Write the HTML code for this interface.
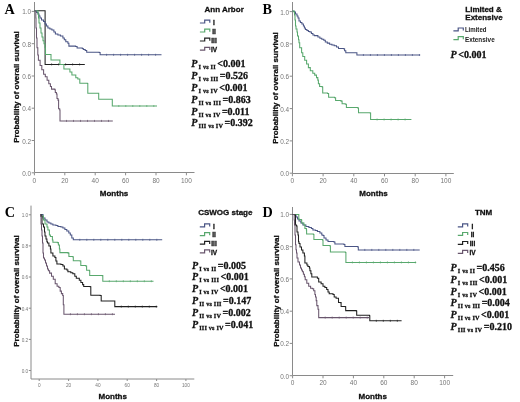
<!DOCTYPE html><html><head><meta charset="utf-8"><style>html,body{margin:0;padding:0;background:#fff;width:520px;height:402px;overflow:hidden;}svg{display:block;will-change:transform;}.b{stroke:#111;stroke-width:0.3px;}.s{stroke:#111;stroke-width:0.3px;}svg{font-family:"Liberation Sans",sans-serif;}</style></head><body>
<svg width="520" height="402" viewBox="0 0 520 402">
<rect width="520" height="402" fill="#fff"/>
<path d="M34.5 2.0 V172.5 H194.5" fill="none" stroke="#8a8a8a" stroke-width="1"/>
<path d="M31.7 172.8 H34.5" stroke="#8a8a8a" stroke-width="1"/>
<text x="31.1" y="175.8" font-size="6.4" text-anchor="end" fill="#767676">0.0</text>
<path d="M31.7 140.5 H34.5" stroke="#8a8a8a" stroke-width="1"/>
<text x="31.1" y="143.5" font-size="6.4" text-anchor="end" fill="#767676">0.2</text>
<path d="M31.7 108.2 H34.5" stroke="#8a8a8a" stroke-width="1"/>
<text x="31.1" y="111.2" font-size="6.4" text-anchor="end" fill="#767676">0.4</text>
<path d="M31.7 76.0 H34.5" stroke="#8a8a8a" stroke-width="1"/>
<text x="31.1" y="79.0" font-size="6.4" text-anchor="end" fill="#767676">0.6</text>
<path d="M31.7 43.7 H34.5" stroke="#8a8a8a" stroke-width="1"/>
<text x="31.1" y="46.7" font-size="6.4" text-anchor="end" fill="#767676">0.8</text>
<path d="M31.7 11.4 H34.5" stroke="#8a8a8a" stroke-width="1"/>
<text x="31.1" y="14.4" font-size="6.4" text-anchor="end" fill="#767676">1.0</text>
<path d="M34.4 172.5 V175.3" stroke="#8a8a8a" stroke-width="1"/>
<text x="34.4" y="182.5" font-size="6.5" text-anchor="middle" fill="#767676">0</text>
<path d="M64.8 172.5 V175.3" stroke="#8a8a8a" stroke-width="1"/>
<text x="64.8" y="182.5" font-size="6.5" text-anchor="middle" fill="#767676">20</text>
<path d="M95.2 172.5 V175.3" stroke="#8a8a8a" stroke-width="1"/>
<text x="95.2" y="182.5" font-size="6.5" text-anchor="middle" fill="#767676">40</text>
<path d="M125.6 172.5 V175.3" stroke="#8a8a8a" stroke-width="1"/>
<text x="125.6" y="182.5" font-size="6.5" text-anchor="middle" fill="#767676">60</text>
<path d="M156.0 172.5 V175.3" stroke="#8a8a8a" stroke-width="1"/>
<text x="156.0" y="182.5" font-size="6.5" text-anchor="middle" fill="#767676">80</text>
<path d="M186.4 172.5 V175.3" stroke="#8a8a8a" stroke-width="1"/>
<text x="186.4" y="182.5" font-size="6.5" text-anchor="middle" fill="#767676">100</text>
<text x="114.0" y="196.0" class="b" font-size="8" font-weight="bold" text-anchor="middle" fill="#111">Months</text>
<text transform="translate(19.0 87.0) rotate(-90)" class="b" font-size="8" font-weight="bold" text-anchor="middle" fill="#111">Probability of overall survival</text>
<text x="4.6" y="13.7" style="font-family:&quot;Liberation Serif&quot;,serif" font-size="14.2" font-weight="bold" fill="#000">A</text>
<path d="M51.6 63.4 V65.4 M58.6 63.4 V65.4 M65.6 63.4 V65.4 M72.6 63.4 V65.4 M79.6 63.4 V65.4 " stroke="#202020" stroke-width="1" fill="none" opacity="0.7"/>
<path d="M34.4 10.8 H45.1 V64.4 H84.8 V64.4" fill="none" stroke="#202020" stroke-width="1.05" stroke-linejoin="miter" stroke-linecap="butt"/>
<path d="M106.6 53.8 V55.8 M113.6 53.8 V55.8 M120.6 53.8 V55.8 M127.6 53.8 V55.8 M134.6 53.8 V55.8 M141.6 53.8 V55.8 M148.6 53.8 V55.8 M155.6 53.8 V55.8 " stroke="#4a5585" stroke-width="1" fill="none" opacity="0.7"/>
<path d="M34.4 10.8 H36.5 V12.5 H38.0 V14.0 H39.0 V16.0 H40.0 V18.0 H41.5 V20.0 H43.5 V21.4 H45.0 V24.0 H46.4 V25.9 H47.9 V27.9 H49.9 V28.9 H51.9 V29.9 H53.9 V31.9 H55.4 V33.9 H57.9 V34.9 H60.4 V35.9 H62.9 V37.9 H64.3 V39.8 H65.8 V41.8 H67.9 V43.2 H68.9 V46.1 H75.6 V46.4 H77.1 V48.0 H82.3 V48.5 H83.3 V49.5 H85.2 V50.4 H86.7 V52.3 H99.2 V52.5 H100.1 V54.8 H161.5 V54.8" fill="none" stroke="#4a5585" stroke-width="1.05" stroke-linejoin="miter" stroke-linecap="butt"/>
<path d="M118.8 105.0 V107.0 M125.8 105.0 V107.0 M132.8 105.0 V107.0 M139.8 105.0 V107.0 M146.8 105.0 V107.0 M153.8 105.0 V107.0 " stroke="#58a86d" stroke-width="1" fill="none" opacity="0.7"/>
<path d="M34.4 10.8 H37.0 V11.0 H38.0 V14.0 H38.5 V18.0 H39.0 V23.0 H40.0 V27.9 H41.0 V32.9 H42.0 V36.9 H43.0 V40.8 H44.0 V43.8 H45.0 V47.8 H45.5 V54.5 H51.0 V59.9 H59.9 V64.4 H63.9 V68.9 H69.9 V71.9 H71.9 V74.9 H75.8 V77.8 H77.8 V79.0 H79.8 V83.2 H87.4 V83.4 H87.8 V93.3 H98.4 V93.3 H98.7 V99.2 H111.9 V99.2 H112.3 V106.0 H157.0 V106.0" fill="none" stroke="#58a86d" stroke-width="1.05" stroke-linejoin="miter" stroke-linecap="butt"/>
<path d="M66.5 119.9 V121.9 M73.5 119.9 V121.9 M80.5 119.9 V121.9 M87.5 119.9 V121.9 M94.5 119.9 V121.9 M101.5 119.9 V121.9 M108.5 119.9 V121.9 " stroke="#69566d" stroke-width="1" fill="none" opacity="0.7"/>
<path d="M34.4 10.8 H35.5 V11.0 H35.8 V18.0 H36.0 V27.9 H36.5 V37.9 H37.0 V47.8 H37.8 V55.0 H38.4 V60.2 H40.1 V65.5 H41.8 V69.8 H43.6 V74.2 H45.3 V76.8 H47.1 V80.3 H48.8 V83.7 H50.4 V86.4 H51.5 V89.1 H54.8 V89.7 H55.3 V92.4 H56.4 V94.0 H57.0 V98.4 H58.0 V100.1 H58.6 V108.8 H59.7 V109.9 H60.0 V120.9 H112.8 V120.9" fill="none" stroke="#69566d" stroke-width="1.05" stroke-linejoin="miter" stroke-linecap="butt"/>
<text x="204.5" y="12.3" class="b" font-size="8" font-weight="bold" fill="#111">Ann Arbor</text>
<path d="M199.9 23.0 H204.7 V20.1 H209.8 V22.7" fill="none" stroke="#4a5585" stroke-width="1.2"/>
<text class="b" x="214.0" y="24.7" font-size="6.5" font-weight="bold" text-anchor="middle" fill="#111">I</text>
<path d="M199.9 32.0 H204.7 V29.1 H209.8 V31.7" fill="none" stroke="#58a86d" stroke-width="1.2"/>
<text class="b" x="214.0" y="33.7" font-size="6.5" font-weight="bold" text-anchor="middle" fill="#111">II</text>
<path d="M199.9 41.0 H204.7 V38.1 H209.8 V40.7" fill="none" stroke="#202020" stroke-width="1.2"/>
<text class="b" x="214.0" y="42.7" font-size="6.5" font-weight="bold" text-anchor="middle" fill="#111">III</text>
<path d="M199.9 50.2 H204.7 V47.3 H209.8 V49.9" fill="none" stroke="#69566d" stroke-width="1.2"/>
<text class="b" x="214.0" y="51.9" font-size="6.5" font-weight="bold" text-anchor="middle" fill="#111">IV</text>
<text x="191.3" y="67.4" class="s" style="font-family:&quot;Liberation Serif&quot;,serif" font-weight="bold" fill="#111"><tspan font-style="italic" font-size="10">P</tspan><tspan font-size="6.2" dx="1.2" dy="2" letter-spacing="0.2">I vs II</tspan><tspan font-size="10" dx="1.4" dy="-2">&lt;0.001</tspan></text>
<text x="191.3" y="79.2" class="s" style="font-family:&quot;Liberation Serif&quot;,serif" font-weight="bold" fill="#111"><tspan font-style="italic" font-size="10">P</tspan><tspan font-size="6.2" dx="1.2" dy="2" letter-spacing="0.2">I vs III</tspan><tspan font-size="10" dx="1.4" dy="-2">=0.526</tspan></text>
<text x="191.3" y="91.0" class="s" style="font-family:&quot;Liberation Serif&quot;,serif" font-weight="bold" fill="#111"><tspan font-style="italic" font-size="10">P</tspan><tspan font-size="6.2" dx="1.2" dy="2" letter-spacing="0.2">I vs IV</tspan><tspan font-size="10" dx="1.4" dy="-2">&lt;0.001</tspan></text>
<text x="191.3" y="102.8" class="s" style="font-family:&quot;Liberation Serif&quot;,serif" font-weight="bold" fill="#111"><tspan font-style="italic" font-size="10">P</tspan><tspan font-size="6.2" dx="1.2" dy="2" letter-spacing="0.2">II vs III</tspan><tspan font-size="10" dx="1.4" dy="-2">=0.863</tspan></text>
<text x="191.3" y="114.6" class="s" style="font-family:&quot;Liberation Serif&quot;,serif" font-weight="bold" fill="#111"><tspan font-style="italic" font-size="10">P</tspan><tspan font-size="6.2" dx="1.2" dy="2" letter-spacing="0.2">II vs IV</tspan><tspan font-size="10" dx="1.4" dy="-2">=0.011</tspan></text>
<text x="191.3" y="126.4" class="s" style="font-family:&quot;Liberation Serif&quot;,serif" font-weight="bold" fill="#111"><tspan font-style="italic" font-size="10">P</tspan><tspan font-size="6.2" dx="1.2" dy="2" letter-spacing="0.2">III vs IV</tspan><tspan font-size="10" dx="1.4" dy="-2">=0.392</tspan></text>
<path d="M292.5 2.0 V173.5 H453.8" fill="none" stroke="#8a8a8a" stroke-width="1"/>
<path d="M289.7 173.2 H292.5" stroke="#8a8a8a" stroke-width="1"/>
<text x="289.1" y="176.2" font-size="6.4" text-anchor="end" fill="#767676">0.0</text>
<path d="M289.7 140.9 H292.5" stroke="#8a8a8a" stroke-width="1"/>
<text x="289.1" y="143.9" font-size="6.4" text-anchor="end" fill="#767676">0.2</text>
<path d="M289.7 108.6 H292.5" stroke="#8a8a8a" stroke-width="1"/>
<text x="289.1" y="111.6" font-size="6.4" text-anchor="end" fill="#767676">0.4</text>
<path d="M289.7 76.2 H292.5" stroke="#8a8a8a" stroke-width="1"/>
<text x="289.1" y="79.2" font-size="6.4" text-anchor="end" fill="#767676">0.6</text>
<path d="M289.7 43.9 H292.5" stroke="#8a8a8a" stroke-width="1"/>
<text x="289.1" y="46.9" font-size="6.4" text-anchor="end" fill="#767676">0.8</text>
<path d="M289.7 11.6 H292.5" stroke="#8a8a8a" stroke-width="1"/>
<text x="289.1" y="14.6" font-size="6.4" text-anchor="end" fill="#767676">1.0</text>
<path d="M292.4 173.5 V176.3" stroke="#8a8a8a" stroke-width="1"/>
<text x="292.4" y="182.8" font-size="6.5" text-anchor="middle" fill="#767676">0</text>
<path d="M323.1 173.5 V176.3" stroke="#8a8a8a" stroke-width="1"/>
<text x="323.1" y="182.8" font-size="6.5" text-anchor="middle" fill="#767676">20</text>
<path d="M353.8 173.5 V176.3" stroke="#8a8a8a" stroke-width="1"/>
<text x="353.8" y="182.8" font-size="6.5" text-anchor="middle" fill="#767676">40</text>
<path d="M384.5 173.5 V176.3" stroke="#8a8a8a" stroke-width="1"/>
<text x="384.5" y="182.8" font-size="6.5" text-anchor="middle" fill="#767676">60</text>
<path d="M415.2 173.5 V176.3" stroke="#8a8a8a" stroke-width="1"/>
<text x="415.2" y="182.8" font-size="6.5" text-anchor="middle" fill="#767676">80</text>
<path d="M445.9 173.5 V176.3" stroke="#8a8a8a" stroke-width="1"/>
<text x="445.9" y="182.8" font-size="6.5" text-anchor="middle" fill="#767676">100</text>
<text x="373.5" y="196.0" class="b" font-size="8" font-weight="bold" text-anchor="middle" fill="#111">Months</text>
<text transform="translate(277.7 88.0) rotate(-90)" class="b" font-size="8" font-weight="bold" text-anchor="middle" fill="#111">Probability of overall survival</text>
<text x="262.4" y="13.7" style="font-family:&quot;Liberation Serif&quot;,serif" font-size="14.2" font-weight="bold" fill="#000">B</text>
<path d="M363.4 54.0 V56.0 M370.4 54.0 V56.0 M377.4 54.0 V56.0 M384.4 54.0 V56.0 M391.4 54.0 V56.0 M398.4 54.0 V56.0 M405.4 54.0 V56.0 M412.4 54.0 V56.0 M419.4 54.0 V56.0 " stroke="#4a5585" stroke-width="1" fill="none" opacity="0.7"/>
<path d="M292.5 11.1 H293.0 V11.2 H294.5 V12.0 H295.5 V14.0 H297.0 V16.0 H298.0 V18.0 H299.0 V20.9 H300.4 V22.4 H301.9 V23.9 H303.4 V25.9 H304.4 V27.9 H305.4 V29.4 H306.9 V30.4 H308.4 V31.4 H309.9 V31.9 H311.4 V33.4 H312.9 V34.9 H314.4 V35.6 H317.9 V36.9 H319.9 V38.3 H321.8 V39.3 H323.8 V40.3 H325.3 V41.9 H327.3 V43.1 H329.6 V44.2 H331.9 V45.0 H334.2 V45.8 H336.5 V46.9 H338.5 V48.5 H343.5 V48.8 H344.6 V50.8 H345.8 V52.7 H355.8 V52.8 H356.9 V55.0 H420.2 V55.0" fill="none" stroke="#4a5585" stroke-width="1.05" stroke-linejoin="miter" stroke-linecap="butt"/>
<path d="M377.1 118.5 V120.5 M384.1 118.5 V120.5 M391.1 118.5 V120.5 M398.1 118.5 V120.5 M405.1 118.5 V120.5 " stroke="#58a86d" stroke-width="1" fill="none" opacity="0.7"/>
<path d="M292.5 11.1 H294.0 V12.0 H294.5 V15.0 H295.0 V20.0 H295.5 V25.9 H296.0 V28.9 H297.0 V31.9 H297.5 V35.9 H298.5 V39.8 H299.0 V42.8 H299.7 V47.7 H301.6 V52.7 H302.8 V56.4 H304.7 V60.2 H306.6 V63.9 H308.4 V67.6 H310.3 V70.7 H312.8 V73.2 H314.7 V75.1 H316.5 V77.6 H317.8 V80.1 H318.4 V83.8 H319.6 V86.4 H322.2 V86.9 H322.7 V93.0 H327.5 V93.5 H328.6 V97.3 H334.5 V97.8 H335.6 V100.5 H341.0 V101.1 H342.1 V103.8 H345.3 V104.3 H346.4 V107.5 H357.7 V107.9 H358.5 V112.8 H370.1 V113.0 H370.6 V119.5 H411.4 V119.5" fill="none" stroke="#58a86d" stroke-width="1.05" stroke-linejoin="miter" stroke-linecap="butt"/>
<text x="465.3" y="12.4" class="b" font-size="8" font-weight="bold" fill="#111">Limited &amp;</text>
<text x="465.3" y="20.2" class="b" font-size="8" font-weight="bold" fill="#111">Extensive</text>
<path d="M453.4 30.9 H458.2 V28.0 H463.3 V30.6" fill="none" stroke="#4a5585" stroke-width="1.2"/>
<path d="M453.4 39.6 H458.2 V36.7 H463.3 V39.3" fill="none" stroke="#58a86d" stroke-width="1.2"/>
<text x="464.9" y="32.3" font-size="6.5" font-weight="bold" fill="#222" textLength="21.6" lengthAdjust="spacingAndGlyphs">Limited</text>
<text x="464.9" y="41.6" font-size="6.5" font-weight="bold" fill="#222" textLength="29.8" lengthAdjust="spacingAndGlyphs">Extensive</text>
<text x="450.6" y="57.8" class="s" style="font-family:&quot;Liberation Serif&quot;,serif" font-weight="bold" fill="#111"><tspan font-style="italic" font-size="10">P</tspan><tspan font-size="10" dx="1.5">&lt;0.001</tspan></text>
<path d="M31.0 205.6 V379.0 H194.3" fill="none" stroke="#8a8a8a" stroke-width="1"/>
<path d="M28.8 370.5 H31.0" stroke="#8a8a8a" stroke-width="1"/>
<text x="28.2" y="372.9" font-size="4.7" text-anchor="end" fill="#767676">0.0</text>
<path d="M28.8 339.4 H31.0" stroke="#8a8a8a" stroke-width="1"/>
<text x="28.2" y="341.7" font-size="4.7" text-anchor="end" fill="#767676">0.2</text>
<path d="M28.8 308.2 H31.0" stroke="#8a8a8a" stroke-width="1"/>
<text x="28.2" y="310.6" font-size="4.7" text-anchor="end" fill="#767676">0.4</text>
<path d="M28.8 277.0 H31.0" stroke="#8a8a8a" stroke-width="1"/>
<text x="28.2" y="279.4" font-size="4.7" text-anchor="end" fill="#767676">0.6</text>
<path d="M28.8 245.9 H31.0" stroke="#8a8a8a" stroke-width="1"/>
<text x="28.2" y="248.3" font-size="4.7" text-anchor="end" fill="#767676">0.8</text>
<path d="M28.8 214.8 H31.0" stroke="#8a8a8a" stroke-width="1"/>
<text x="28.2" y="217.1" font-size="4.7" text-anchor="end" fill="#767676">1.0</text>
<path d="M39.2 379.0 V381.0" stroke="#8a8a8a" stroke-width="1"/>
<text x="39.2" y="386.8" font-size="4.7" text-anchor="middle" fill="#767676">0</text>
<path d="M68.6 379.0 V381.0" stroke="#8a8a8a" stroke-width="1"/>
<text x="68.6" y="386.8" font-size="4.7" text-anchor="middle" fill="#767676">20</text>
<path d="M97.9 379.0 V381.0" stroke="#8a8a8a" stroke-width="1"/>
<text x="97.9" y="386.8" font-size="4.7" text-anchor="middle" fill="#767676">40</text>
<path d="M127.2 379.0 V381.0" stroke="#8a8a8a" stroke-width="1"/>
<text x="127.2" y="386.8" font-size="4.7" text-anchor="middle" fill="#767676">60</text>
<path d="M156.6 379.0 V381.0" stroke="#8a8a8a" stroke-width="1"/>
<text x="156.6" y="386.8" font-size="4.7" text-anchor="middle" fill="#767676">80</text>
<path d="M185.9 379.0 V381.0" stroke="#8a8a8a" stroke-width="1"/>
<text x="185.9" y="386.8" font-size="4.7" text-anchor="middle" fill="#767676">100</text>
<text x="112.7" y="399.0" class="b" font-size="8" font-weight="bold" text-anchor="middle" fill="#111">Months</text>
<text transform="translate(18.7 291.0) rotate(-90)" class="b" font-size="8" font-weight="bold" text-anchor="middle" fill="#111">Probability of overall survival</text>
<text x="4.7" y="216.9" style="font-family:&quot;Liberation Serif&quot;,serif" font-size="14.2" font-weight="bold" fill="#000">C</text>
<path d="M79.8 238.8 V240.8 M86.8 238.8 V240.8 M93.8 238.8 V240.8 M100.8 238.8 V240.8 M107.8 238.8 V240.8 M114.8 238.8 V240.8 M121.8 238.8 V240.8 M128.8 238.8 V240.8 M135.8 238.8 V240.8 M142.8 238.8 V240.8 M149.8 238.8 V240.8 M156.8 238.8 V240.8 " stroke="#4a5585" stroke-width="1" fill="none" opacity="0.7"/>
<path d="M40.1 214.4 H40.5 V214.5 H43.0 V218.0 H45.0 V220.0 H47.0 V222.0 H48.9 V222.9 H50.9 V223.9 H52.9 V224.9 H55.9 V225.4 H57.9 V226.4 H60.9 V226.9 H62.9 V227.9 H64.9 V229.4 H66.8 V230.9 H68.8 V232.9 H70.3 V234.9 H71.8 V237.9 H73.3 V239.8 H162.2 V239.8" fill="none" stroke="#4a5585" stroke-width="1.05" stroke-linejoin="miter" stroke-linecap="butt"/>
<path d="M109.3 280.2 V282.2 M116.3 280.2 V282.2 M123.3 280.2 V282.2 M130.3 280.2 V282.2 M137.3 280.2 V282.2 M144.3 280.2 V282.2 M151.3 280.2 V282.2 " stroke="#58a86d" stroke-width="1" fill="none" opacity="0.7"/>
<path d="M40.1 214.4 H41.0 V216.0 H43.5 V220.0 H45.0 V223.9 H47.0 V226.9 H47.9 V229.9 H49.4 V234.9 H50.4 V236.4 H52.4 V239.9 H52.9 V242.2 H57.4 V242.6 H58.4 V245.0 H59.4 V249.0 H59.9 V252.6 H68.1 V253.1 H68.9 V256.5 H72.5 V256.8 H73.3 V260.7 H80.0 V260.9 H80.8 V265.5 H85.8 V265.9 H86.6 V270.2 H89.4 V270.8 H89.7 V275.4 H102.3 V275.6 H102.8 V281.2 H153.5 V281.2" fill="none" stroke="#58a86d" stroke-width="1.05" stroke-linejoin="miter" stroke-linecap="butt"/>
<path d="M121.3 305.6 V307.6 M128.3 305.6 V307.6 M135.3 305.6 V307.6 M142.3 305.6 V307.6 M149.3 305.6 V307.6 M156.3 305.6 V307.6 " stroke="#202020" stroke-width="1" fill="none" opacity="0.7"/>
<path d="M40.1 214.4 H41.0 V216.0 H42.0 V223.9 H43.5 V226.9 H44.5 V231.9 H45.0 V235.9 H46.0 V238.9 H46.9 V241.8 H47.5 V243.0 H48.9 V246.0 H50.4 V249.0 H50.9 V252.9 H52.9 V255.9 H54.9 V257.4 H55.9 V260.9 H56.9 V263.9 H60.9 V264.4 H62.9 V265.9 H64.4 V268.9 H66.9 V269.9 H67.9 V271.8 H70.8 V272.8 H72.8 V273.8 H74.8 V276.3 H76.3 V278.3 H79.3 V280.2 H80.9 V282.4 H82.6 V284.6 H83.7 V286.4 H90.2 V286.8 H90.8 V295.2 H100.1 V295.5 H101.2 V300.9 H113.7 V301.0 H114.8 V306.6 H157.3 V306.6" fill="none" stroke="#202020" stroke-width="1.05" stroke-linejoin="miter" stroke-linecap="butt"/>
<path d="M70.4 313.2 V315.2 M77.4 313.2 V315.2 M84.4 313.2 V315.2 M91.4 313.2 V315.2 M98.4 313.2 V315.2 M105.4 313.2 V315.2 M112.4 313.2 V315.2 " stroke="#69566d" stroke-width="1" fill="none" opacity="0.7"/>
<path d="M40.1 214.4 H40.5 V216.0 H41.0 V223.9 H41.5 V229.9 H42.0 V235.9 H42.5 V243.0 H43.0 V252.9 H43.5 V257.9 H44.5 V259.9 H45.5 V262.9 H46.5 V265.9 H47.5 V268.9 H48.4 V270.8 H49.6 V273.1 H51.5 V276.2 H53.3 V279.3 H55.2 V283.7 H57.1 V286.2 H58.9 V287.4 H60.2 V291.1 H61.4 V293.6 H62.7 V295.5 H63.3 V304.8 H63.9 V314.2 H115.0 V314.2" fill="none" stroke="#69566d" stroke-width="1.05" stroke-linejoin="miter" stroke-linecap="butt"/>
<text x="198.2" y="215.4" class="b" font-size="8" font-weight="bold" fill="#111">CSWOG stage</text>
<path d="M199.8 226.8 H204.6 V223.9 H209.7 V226.5" fill="none" stroke="#4a5585" stroke-width="1.2"/>
<text class="b" x="214.0" y="228.5" font-size="6.5" font-weight="bold" text-anchor="middle" fill="#111">I</text>
<path d="M199.8 235.6 H204.6 V232.7 H209.7 V235.3" fill="none" stroke="#58a86d" stroke-width="1.2"/>
<text class="b" x="214.0" y="237.3" font-size="6.5" font-weight="bold" text-anchor="middle" fill="#111">II</text>
<path d="M199.8 244.2 H204.6 V241.3 H209.7 V243.9" fill="none" stroke="#202020" stroke-width="1.2"/>
<text class="b" x="214.0" y="245.9" font-size="6.5" font-weight="bold" text-anchor="middle" fill="#111">III</text>
<path d="M199.8 252.8 H204.6 V249.9 H209.7 V252.5" fill="none" stroke="#69566d" stroke-width="1.2"/>
<text class="b" x="214.0" y="254.5" font-size="6.5" font-weight="bold" text-anchor="middle" fill="#111">IV</text>
<text x="191.9" y="268.6" class="s" style="font-family:&quot;Liberation Serif&quot;,serif" font-weight="bold" fill="#111"><tspan font-style="italic" font-size="10">P</tspan><tspan font-size="6.2" dx="1.2" dy="2" letter-spacing="0.2">I vs II</tspan><tspan font-size="10" dx="1.4" dy="-2">=0.005</tspan></text>
<text x="191.9" y="280.4" class="s" style="font-family:&quot;Liberation Serif&quot;,serif" font-weight="bold" fill="#111"><tspan font-style="italic" font-size="10">P</tspan><tspan font-size="6.2" dx="1.2" dy="2" letter-spacing="0.2">I vs III</tspan><tspan font-size="10" dx="1.4" dy="-2">&lt;0.001</tspan></text>
<text x="191.9" y="292.2" class="s" style="font-family:&quot;Liberation Serif&quot;,serif" font-weight="bold" fill="#111"><tspan font-style="italic" font-size="10">P</tspan><tspan font-size="6.2" dx="1.2" dy="2" letter-spacing="0.2">I vs IV</tspan><tspan font-size="10" dx="1.4" dy="-2">&lt;0.001</tspan></text>
<text x="191.9" y="304.0" class="s" style="font-family:&quot;Liberation Serif&quot;,serif" font-weight="bold" fill="#111"><tspan font-style="italic" font-size="10">P</tspan><tspan font-size="6.2" dx="1.2" dy="2" letter-spacing="0.2">II vs III</tspan><tspan font-size="10" dx="1.4" dy="-2">=0.147</tspan></text>
<text x="191.9" y="315.8" class="s" style="font-family:&quot;Liberation Serif&quot;,serif" font-weight="bold" fill="#111"><tspan font-style="italic" font-size="10">P</tspan><tspan font-size="6.2" dx="1.2" dy="2" letter-spacing="0.2">II vs IV</tspan><tspan font-size="10" dx="1.4" dy="-2">=0.002</tspan></text>
<text x="191.9" y="327.6" class="s" style="font-family:&quot;Liberation Serif&quot;,serif" font-weight="bold" fill="#111"><tspan font-style="italic" font-size="10">P</tspan><tspan font-size="6.2" dx="1.2" dy="2" letter-spacing="0.2">III vs IV</tspan><tspan font-size="10" dx="1.4" dy="-2">=0.041</tspan></text>
<path d="M292.5 207.0 V375.5 H453.2" fill="none" stroke="#8a8a8a" stroke-width="1"/>
<path d="M289.7 375.7 H292.5" stroke="#8a8a8a" stroke-width="1"/>
<text x="289.1" y="378.7" font-size="6.4" text-anchor="end" fill="#767676">0.0</text>
<path d="M289.7 343.4 H292.5" stroke="#8a8a8a" stroke-width="1"/>
<text x="289.1" y="346.4" font-size="6.4" text-anchor="end" fill="#767676">0.2</text>
<path d="M289.7 311.2 H292.5" stroke="#8a8a8a" stroke-width="1"/>
<text x="289.1" y="314.2" font-size="6.4" text-anchor="end" fill="#767676">0.4</text>
<path d="M289.7 278.9 H292.5" stroke="#8a8a8a" stroke-width="1"/>
<text x="289.1" y="281.9" font-size="6.4" text-anchor="end" fill="#767676">0.6</text>
<path d="M289.7 246.7 H292.5" stroke="#8a8a8a" stroke-width="1"/>
<text x="289.1" y="249.7" font-size="6.4" text-anchor="end" fill="#767676">0.8</text>
<path d="M289.7 214.4 H292.5" stroke="#8a8a8a" stroke-width="1"/>
<text x="289.1" y="217.4" font-size="6.4" text-anchor="end" fill="#767676">1.0</text>
<path d="M292.6 375.5 V378.3" stroke="#8a8a8a" stroke-width="1"/>
<text x="292.6" y="385.3" font-size="6.5" text-anchor="middle" fill="#767676">0</text>
<path d="M323.0 375.5 V378.3" stroke="#8a8a8a" stroke-width="1"/>
<text x="323.0" y="385.3" font-size="6.5" text-anchor="middle" fill="#767676">20</text>
<path d="M353.4 375.5 V378.3" stroke="#8a8a8a" stroke-width="1"/>
<text x="353.4" y="385.3" font-size="6.5" text-anchor="middle" fill="#767676">40</text>
<path d="M383.8 375.5 V378.3" stroke="#8a8a8a" stroke-width="1"/>
<text x="383.8" y="385.3" font-size="6.5" text-anchor="middle" fill="#767676">60</text>
<path d="M414.2 375.5 V378.3" stroke="#8a8a8a" stroke-width="1"/>
<text x="414.2" y="385.3" font-size="6.5" text-anchor="middle" fill="#767676">80</text>
<path d="M444.6 375.5 V378.3" stroke="#8a8a8a" stroke-width="1"/>
<text x="444.6" y="385.3" font-size="6.5" text-anchor="middle" fill="#767676">100</text>
<text x="372.7" y="399.0" class="b" font-size="8" font-weight="bold" text-anchor="middle" fill="#111">Months</text>
<text transform="translate(278.7 291.0) rotate(-90)" class="b" font-size="8" font-weight="bold" text-anchor="middle" fill="#111">Probability of overall survival</text>
<text x="262.4" y="216.9" style="font-family:&quot;Liberation Serif&quot;,serif" font-size="14.2" font-weight="bold" fill="#000">D</text>
<path d="M364.8 248.9 V250.9 M371.8 248.9 V250.9 M378.8 248.9 V250.9 M385.8 248.9 V250.9 M392.8 248.9 V250.9 M399.8 248.9 V250.9 M406.8 248.9 V250.9 M413.8 248.9 V250.9 " stroke="#4a5585" stroke-width="1" fill="none" opacity="0.7"/>
<path d="M292.5 214.4 H295.0 V214.5 H296.0 V217.0 H297.5 V219.0 H299.0 V221.0 H300.9 V222.9 H302.9 V224.9 H305.9 V226.4 H308.9 V227.4 H311.4 V228.4 H312.9 V229.9 H315.4 V230.4 H317.4 V231.4 H319.9 V232.9 H321.8 V234.9 H323.0 V235.5 H324.0 V238.0 H326.0 V239.9 H328.0 V241.4 H333.9 V241.9 H334.9 V243.9 H343.9 V244.4 H344.9 V246.4 H357.8 V246.9 H358.3 V249.9 H419.7 V249.9" fill="none" stroke="#4a5585" stroke-width="1.05" stroke-linejoin="miter" stroke-linecap="butt"/>
<path d="M352.4 261.4 V263.4 M359.4 261.4 V263.4 M366.4 261.4 V263.4 M373.4 261.4 V263.4 M380.4 261.4 V263.4 M387.4 261.4 V263.4 M394.4 261.4 V263.4 M401.4 261.4 V263.4 M408.4 261.4 V263.4 M415.4 261.4 V263.4 " stroke="#58a86d" stroke-width="1" fill="none" opacity="0.7"/>
<path d="M292.5 214.4 H298.5 V214.5 H298.8 V219.5 H301.4 V220.0 H301.7 V222.9 H303.9 V224.9 H304.9 V228.4 H306.4 V229.9 H306.6 V233.9 H313.4 V234.4 H313.9 V239.4 H322.5 V239.9 H323.0 V245.4 H330.0 V245.9 H330.4 V251.9 H345.4 V252.4 H345.9 V262.4 H416.2 V262.4" fill="none" stroke="#58a86d" stroke-width="1.05" stroke-linejoin="miter" stroke-linecap="butt"/>
<path d="M376.3 319.8 V321.8 M383.3 319.8 V321.8 M390.3 319.8 V321.8 M397.3 319.8 V321.8 " stroke="#202020" stroke-width="1" fill="none" opacity="0.7"/>
<path d="M292.5 214.4 H294.5 V215.0 H295.5 V224.9 H296.5 V225.9 H297.0 V231.9 H298.0 V234.9 H298.5 V241.8 H299.0 V243.5 H300.0 V247.0 H301.5 V250.0 H302.9 V252.9 H304.4 V255.9 H304.9 V262.9 H306.9 V264.9 H307.9 V266.4 H309.4 V267.9 H309.9 V270.8 H310.9 V273.8 H311.8 V277.0 H317.4 V278.2 H318.7 V282.0 H321.1 V283.8 H323.0 V286.3 H324.9 V287.5 H326.7 V289.4 H328.0 V291.9 H329.2 V293.8 H333.0 V294.4 H334.2 V296.9 H336.1 V298.3 H338.5 V302.4 H340.7 V302.6 H341.1 V306.4 H345.3 V306.8 H345.7 V310.6 H356.3 V311.0 H356.7 V315.3 H369.4 V315.7 H369.8 V320.8 H401.6 V320.8" fill="none" stroke="#202020" stroke-width="1.05" stroke-linejoin="miter" stroke-linecap="butt"/>
<path d="M325.2 316.6 V318.6 M332.2 316.6 V318.6 M339.2 316.6 V318.6 M346.2 316.6 V318.6 M353.2 316.6 V318.6 M360.2 316.6 V318.6 M367.2 316.6 V318.6 " stroke="#69566d" stroke-width="1" fill="none" opacity="0.7"/>
<path d="M292.5 214.4 H294.0 V214.5 H294.2 V220.0 H294.5 V225.0 H295.0 V235.0 H295.5 V244.8 H296.0 V249.8 H296.5 V253.0 H297.0 V257.9 H298.0 V261.9 H299.5 V264.9 H300.5 V267.9 H301.5 V269.9 H302.4 V271.8 H303.4 V274.3 H304.4 V276.8 H305.2 V279.8 H306.8 V283.2 H308.7 V286.3 H310.6 V288.2 H312.4 V288.8 H313.7 V290.7 H314.9 V294.4 H315.5 V296.9 H316.2 V300.6 H316.8 V305.6 H318.0 V309.3 H318.7 V317.6 H369.0 V317.6" fill="none" stroke="#69566d" stroke-width="1.05" stroke-linejoin="miter" stroke-linecap="butt"/>
<text x="474.9" y="215.2" class="b" font-size="8" font-weight="bold" fill="#111">TNM</text>
<path d="M457.8 226.8 H462.6 V223.9 H467.7 V226.5" fill="none" stroke="#4a5585" stroke-width="1.2"/>
<text class="b" x="472.5" y="228.5" font-size="6.5" font-weight="bold" text-anchor="middle" fill="#111">I</text>
<path d="M457.8 235.4 H462.6 V232.5 H467.7 V235.1" fill="none" stroke="#58a86d" stroke-width="1.2"/>
<text class="b" x="472.5" y="237.1" font-size="6.5" font-weight="bold" text-anchor="middle" fill="#111">II</text>
<path d="M457.8 244.4 H462.6 V241.5 H467.7 V244.1" fill="none" stroke="#202020" stroke-width="1.2"/>
<text class="b" x="472.5" y="246.1" font-size="6.5" font-weight="bold" text-anchor="middle" fill="#111">III</text>
<path d="M457.8 253.3 H462.6 V250.4 H467.7 V253.0" fill="none" stroke="#69566d" stroke-width="1.2"/>
<text class="b" x="472.5" y="255.0" font-size="6.5" font-weight="bold" text-anchor="middle" fill="#111">IV</text>
<text x="450.5" y="271.0" class="s" style="font-family:&quot;Liberation Serif&quot;,serif" font-weight="bold" fill="#111"><tspan font-style="italic" font-size="10">P</tspan><tspan font-size="6.2" dx="1.2" dy="2" letter-spacing="0.2">I vs II</tspan><tspan font-size="10" dx="1.4" dy="-2">=0.456</tspan></text>
<text x="450.5" y="282.8" class="s" style="font-family:&quot;Liberation Serif&quot;,serif" font-weight="bold" fill="#111"><tspan font-style="italic" font-size="10">P</tspan><tspan font-size="6.2" dx="1.2" dy="2" letter-spacing="0.2">I vs III</tspan><tspan font-size="10" dx="1.4" dy="-2">&lt;0.001</tspan></text>
<text x="450.5" y="294.6" class="s" style="font-family:&quot;Liberation Serif&quot;,serif" font-weight="bold" fill="#111"><tspan font-style="italic" font-size="10">P</tspan><tspan font-size="6.2" dx="1.2" dy="2" letter-spacing="0.2">I vs IV</tspan><tspan font-size="10" dx="1.4" dy="-2">&lt;0.001</tspan></text>
<text x="450.5" y="306.4" class="s" style="font-family:&quot;Liberation Serif&quot;,serif" font-weight="bold" fill="#111"><tspan font-style="italic" font-size="10">P</tspan><tspan font-size="6.2" dx="1.2" dy="2" letter-spacing="0.2">II vs III</tspan><tspan font-size="10" dx="1.4" dy="-2">=0.004</tspan></text>
<text x="450.5" y="318.2" class="s" style="font-family:&quot;Liberation Serif&quot;,serif" font-weight="bold" fill="#111"><tspan font-style="italic" font-size="10">P</tspan><tspan font-size="6.2" dx="1.2" dy="2" letter-spacing="0.2">II vs IV</tspan><tspan font-size="10" dx="1.4" dy="-2">&lt;0.001</tspan></text>
<text x="450.5" y="330.0" class="s" style="font-family:&quot;Liberation Serif&quot;,serif" font-weight="bold" fill="#111"><tspan font-style="italic" font-size="10">P</tspan><tspan font-size="6.2" dx="1.2" dy="2" letter-spacing="0.2">III vs IV</tspan><tspan font-size="10" dx="1.4" dy="-2">=0.210</tspan></text>
</svg></body></html>
